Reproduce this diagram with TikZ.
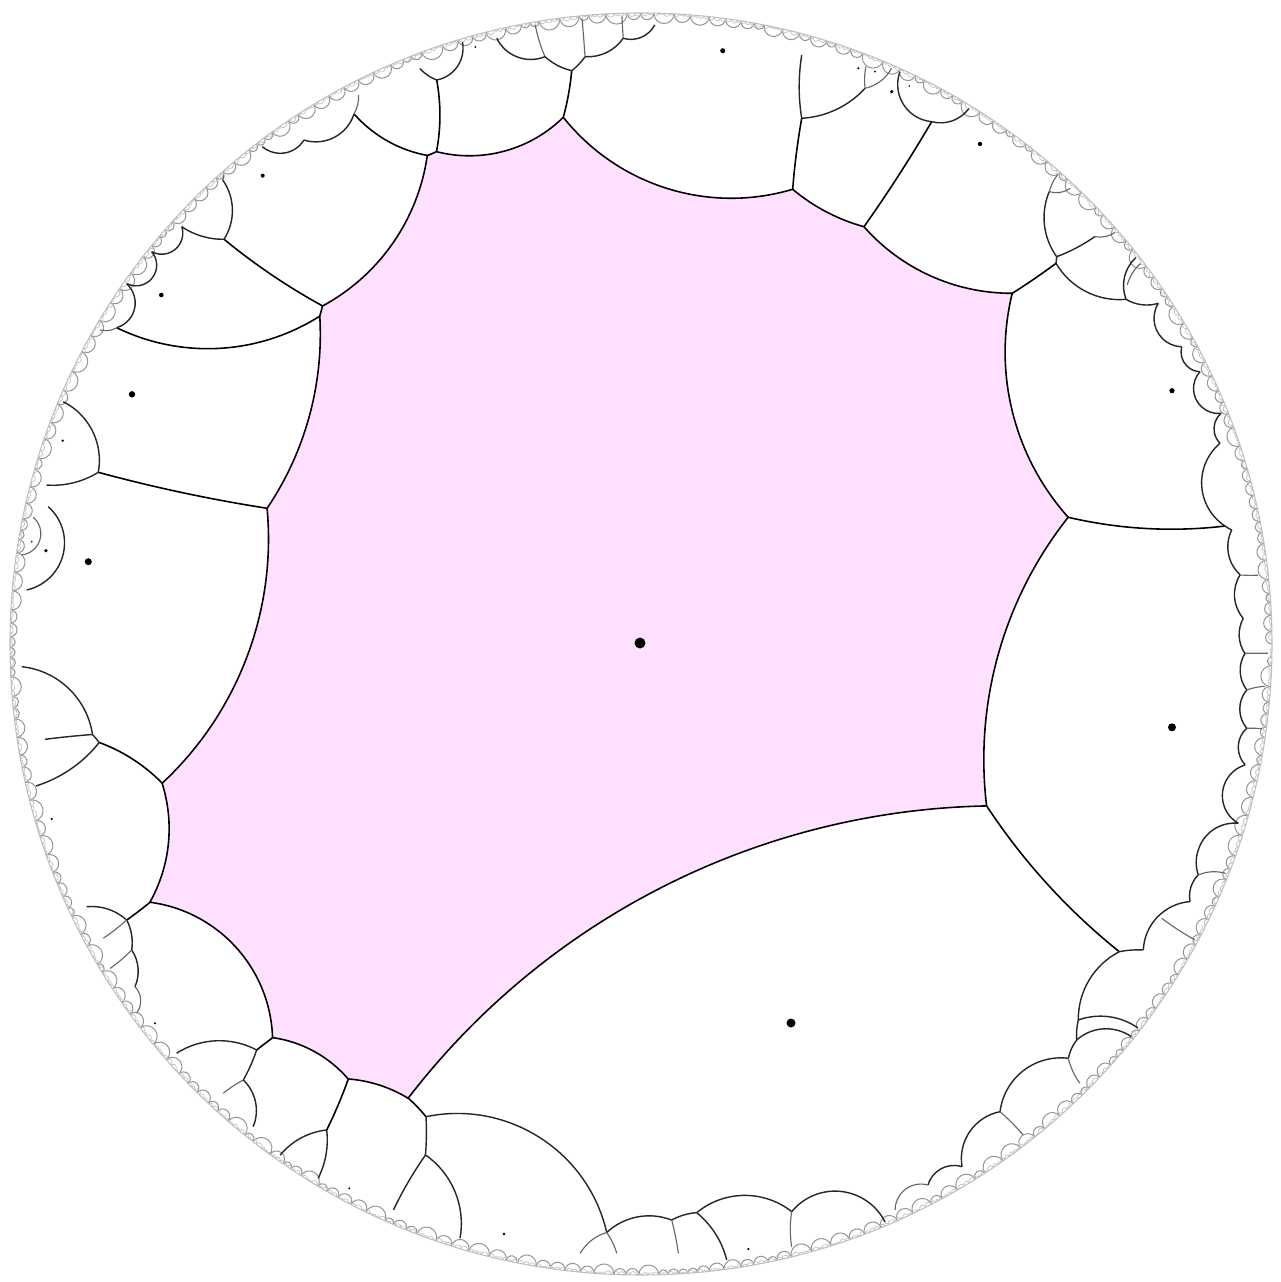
\documentclass[tikz,border=0pt]{standalone}
\usepackage{tikz}
\definecolor{pinkfill}{RGB}{255,224,255}
\tikzset{
  e1/.style={draw=black,line width=0.45pt},
  e2/.style={draw=black!85,line width=0.4pt},
  e3/.style={draw=black!60,line width=0.32pt},
  fringeA/.style={draw=black!42,line width=0.28pt},
  fringeB/.style={draw=black!24,line width=0.2pt},
  site/.style={fill=black}
}
% geodesic of the Poincare disk between two points given in pixel coordinates
\newcommand\hgcalc[4]{%
  \pgfmathsetmacro\hpx{((#1)-641)/631}%
  \pgfmathsetmacro\hpy{(644-(#2))/631}%
  \pgfmathsetmacro\hqx{((#3)-641)/631}%
  \pgfmathsetmacro\hqy{(644-(#4))/631}%
  \pgfmathsetmacro\hpl{max(1,veclen(\hpx,\hpy)/0.995)}%
  \pgfmathsetmacro\hpx{(\hpx)/(\hpl)}%
  \pgfmathsetmacro\hpy{(\hpy)/(\hpl)}%
  \pgfmathsetmacro\hql{max(1,veclen(\hqx,\hqy)/0.995)}%
  \pgfmathsetmacro\hqx{(\hqx)/(\hql)}%
  \pgfmathsetmacro\hqy{(\hqy)/(\hql)}%
  \pgfmathsetmacro\hA{((\hpx)*(\hpx)+(\hpy)*(\hpy)+1)/2}%
  \pgfmathsetmacro\hB{((\hqx)*(\hqx)+(\hqy)*(\hqy)+1)/2}%
  \pgfmathsetmacro\hD{(\hpx)*(\hqy)-(\hpy)*(\hqx)}%
  \pgfmathsetmacro\hNx{(\hA)*(\hqy)-(\hB)*(\hpy)}%
  \pgfmathsetmacro\hNy{(\hpx)*(\hB)-(\hqx)*(\hA)}%
  \pgfmathsetmacro\hstr{veclen(\hNx,\hNy)>40*abs(\hD)?1:0}%
  \ifdim\hstr pt>0.5pt
    \gdef\hst{1}%
  \else
    \gdef\hst{0}%
    \pgfmathsetmacro\hcx{(\hNx)/(\hD)}%
    \pgfmathsetmacro\hcy{(\hNy)/(\hD)}%
    \pgfmathsetmacro\hrc{6.31*veclen((\hcx)-(\hpx),(\hcy)-(\hpy))}%
    \pgfmathsetmacro\hs{atan2((\hpy)-(\hcy),(\hpx)-(\hcx))}%
    \pgfmathsetmacro\hee{atan2((\hqy)-(\hcy),(\hqx)-(\hcx))}%
    \pgfmathsetmacro\hdd{mod((\hee)-(\hs)+540,360)-180}%
    \global\let\hrc\hrc \global\let\hs\hs \global\let\hdd\hdd
  \fi
  \global\let\hpx\hpx \global\let\hpy\hpy \global\let\hqx\hqx \global\let\hqy\hqy
}
\newcommand\hgeo[5][e2]{%
  \hgcalc{#2}{#3}{#4}{#5}%
  \ifnum\hst=1
    \path[#1] (\hpx,\hpy) -- (\hqx,\hqy);%
  \else
    \path[#1] (\hpx,\hpy) arc[start angle=\hs, delta angle=\hdd, radius=\hrc cm];%
  \fi}
\newcommand\hseg[4]{\pgfextra{\hgcalc{#1}{#2}{#3}{#4}} arc[start angle=\hs, delta angle=\hdd, radius=\hrc cm]}
\newcommand\site[3]{\fill[site] ({((#1)-641)/631},{(644-(#2))/631}) circle[radius=#3*0.01cm];}
\begin{document}
\begin{tikzpicture}[x=6.31cm,y=6.31cm]
\useasboundingbox (-1.01585,-1.01109) rectangle (1.01268,1.02060);
\fill[white] (-1.01585,-1.01109) rectangle (1.01268,1.02060);

% central cell
\path[fill=pinkfill, e1] ({(427.5-641)/631},{(644-155.5)/631})
  \hseg{427.5}{155.5}{436.5}{151.7}
  \hseg{436.5}{151.7}{563.3}{117.3}
  \hseg{563.3}{117.3}{792.7}{189.3}
  \hseg{792.7}{189.3}{864}{226.7}
  \hseg{864}{226.7}{1012.3}{293.3}
  \hseg{1012.3}{293.3}{1068.3}{517.3}
  \hseg{1068.3}{517.3}{986.7}{806}
  \hseg{986.7}{806}{408.3}{1098.3}
  \hseg{408.3}{1098.3}{348.3}{1079}
  \hseg{348.3}{1079}{272.7}{1037.7}
  \hseg{272.7}{1037.7}{150}{902.3}
  \hseg{150}{902.3}{162.3}{783.3}
  \hseg{162.3}{783.3}{267.3}{508.3}
  \hseg{267.3}{508.3}{320}{316}
  \hseg{320}{316}{322.7}{306}
  \hseg{322.7}{306}{427.5}{155.5} -- cycle;

% fringe of small cells near the ideal boundary
\pgfmathsetseed{4242}
\xdef\fgA{0}
\foreach \k in {1,...,360}{%
  \pgfmathsetmacro\fh{0.4+0.6*rnd}%
  \pgfmathsetmacro\fgB{\fgA+2*\fh}%
  \ifdim\fgB pt<360pt
    \pgfmathsetmacro\fr{6.31*tan(\fh)}%
    \draw[fringeA] ({cos(\fgA)},{sin(\fgA)}) arc[start angle=\fgA+270, delta angle=2*\fh-180, radius=\fr cm];%
  \fi
  \xdef\fgA{\fgB}%
}
\xdef\fgA{0.3}
\foreach \k in {1,...,900}{%
  \pgfmathsetmacro\fh{0.12+0.2*rnd}%
  \pgfmathsetmacro\fgB{\fgA+2*\fh}%
  \ifdim\fgB pt<360pt
    \pgfmathsetmacro\fr{6.31*tan(\fh)}%
    \draw[fringeB] ({cos(\fgA)},{sin(\fgA)}) arc[start angle=\fgA+270, delta angle=2*\fh-180, radius=\fr cm];%
  \fi
  \xdef\fgA{\fgB}%
}
\draw[black!25,line width=0.3pt] (0,0) circle[radius=6.31cm];

% edges leaving the central cell
\hgeo[e1]{322.7}{306}{224}{239.3}
\hgeo[e1]{320}{316}{116.7}{327.7}
\hgeo[e1]{267.3}{508.3}{98.3}{472.3}
\hgeo[e1]{162.3}{783.3}{99.2}{742.5}
\hgeo[e1]{150}{902.3}{126.7}{920}
\hgeo[e1]{272.7}{1037.7}{256.7}{1050}
\hgeo[e1]{348.3}{1079}{326.7}{1130}
\hgeo[e1]{408.3}{1098.3}{426}{1116.7}
\hgeo[e1]{986.7}{806}{1119.3}{951.7}
\hgeo[e1]{1068.3}{517.3}{1225}{526}
\hgeo[e1]{1012.3}{293.3}{1056}{263.3}
\hgeo[e1]{864}{226.7}{931.7}{121.7}
\hgeo[e1]{792.7}{189.3}{801.7}{118.3}
\hgeo[e1]{563.3}{117.3}{571.7}{70.7}
\hgeo[e1]{436.5}{151.7}{436.7}{80}
\hgeo[e1]{427.5}{155.5}{354}{114}

% second ring: upper left
\hgeo{224}{239.3}{222.7}{180}
\hgeo{224}{239.3}{181.7}{226.7}
\hgeo[e3]{222.7}{180}{213}{163}
\hgeo[e3]{354}{114}{358.3}{95}
\hgeo{354}{114}{304}{140}
\hgeo{304}{140}{262}{147}
\hgeo{116.7}{327.7}{124}{281.7}
\hgeo[e3]{116.7}{327.7}{100}{330}
\hgeo{124}{281.7}{151.7}{251.7}
\hgeo{151.7}{251.7}{181.7}{226.7}
% left
\hgeo{98.3}{472.3}{63.3}{401.7}
\hgeo{98.3}{472.3}{46.7}{485}
\hgeo{48.3}{506.7}{26.7}{590}
\hgeo[e3]{33.3}{517.3}{21.7}{555}
\hgeo{92.5}{734.5}{21.7}{666.7}
\hgeo{92.5}{734.5}{99.2}{742.5}
\hgeo{92.5}{734.5}{45}{739.3}
\hgeo{99.2}{742.5}{36}{786}
% lower left
\hgeo{126.7}{920}{86.7}{906.7}
\hgeo{126.7}{920}{131.7}{950}
\hgeo{131.7}{950}{135}{986.7}
\hgeo[e3]{135}{986.7}{136.7}{1013}
\hgeo[e3]{126.7}{920}{103.3}{938.3}
\hgeo[e3]{131.7}{950}{110}{968.3}
\hgeo{256.7}{1050}{176.7}{1053.3}
\hgeo{256.7}{1050}{243.3}{1080}
\hgeo[e3]{243.3}{1080}{223.3}{1093.3}
\hgeo{243.3}{1080}{253.3}{1126.7}
\hgeo{326.7}{1130}{280}{1155}
\hgeo{326.7}{1130}{318.3}{1178.3}
\hgeo{426}{1116.7}{425.5}{1155}
\hgeo{425.5}{1155}{393.3}{1210}
\hgeo{425.5}{1155}{460}{1238.3}
% bottom
\hgeo{426}{1116.7}{606.7}{1232.5}
\hgeo{606.7}{1232.5}{671.7}{1220}
\hgeo[e3]{606.7}{1232.5}{580}{1253.3}
\hgeo[e3]{606.7}{1232.5}{616.7}{1253.3}
\hgeo{671.7}{1220}{696.7}{1212.7}
\hgeo[e3]{671.7}{1220}{678.3}{1253.3}
\hgeo{696.7}{1212.7}{791.7}{1211.7}
\hgeo{696.7}{1212.7}{726.7}{1260}
\hgeo{791.7}{1211.7}{885}{1222}
\hgeo[e3]{791.7}{1211.7}{791.7}{1246.7}
% lower right
\hgeo{1119.3}{951.7}{1143.3}{950}
\hgeo{1119.3}{951.7}{1078.3}{1020}
\hgeo{1143.3}{950}{1190}{901.7}
\hgeo{1190}{901.7}{1198.3}{875}
\hgeo{1198.3}{875}{1198.3}{850}
\hgeo[e3]{1198.3}{875}{1230}{875}
\hgeo{1198.3}{850}{1238.3}{823.3}
\hgeo[e3]{1161.7}{918.3}{1195}{940}
\hgeo{1078.3}{1020}{1138.3}{1028.3}
\hgeo{1078.3}{1020}{1076.7}{1040}
\hgeo{1076.7}{1040}{1133.3}{1038.3}
\hgeo{1076.7}{1040}{1068.3}{1058.3}
\hgeo{1068.3}{1058.3}{1000}{1111.7}
\hgeo[e3]{1068.3}{1058.3}{1080}{1083.3}
\hgeo{1000}{1111.7}{962}{1166.7}
\hgeo[e3]{1000}{1111.7}{1023}{1135}
\hgeo{962}{1166.7}{928}{1185}
\hgeo[e3]{928}{1185}{895}{1210}
% right
\hgeo{1225}{526}{1220}{443.3}
\hgeo{1225}{526}{1231.7}{530}
\hgeo{1231.7}{530}{1240}{575}
\hgeo[e3]{1240}{575}{1258}{575}
\hgeo{1240}{575}{1243.3}{618.3}
\hgeo{1243.3}{618.3}{1245}{653.3}
\hgeo[e3]{1245}{653.3}{1268}{653.3}
\hgeo{1245}{653.3}{1246.7}{690}
\hgeo[e3]{1246.7}{690}{1265}{686.7}
\hgeo{1246.7}{690}{1246.7}{728.3}
\hgeo[e3]{1246.7}{728.3}{1262}{728.3}
\hgeo{1246.7}{728.3}{1245}{765}
\hgeo{1245}{765}{1238.3}{823.3}
% upper right
\hgeo{1056}{263.3}{1056.7}{256.7}
\hgeo{1056.7}{256.7}{1049.3}{191.7}
\hgeo{1056.7}{256.7}{1095}{236.7}
\hgeo[e3]{1095}{236.7}{1120}{228}
\hgeo[e3]{1049.3}{191.7}{1058.3}{173.3}
\hgeo[e3]{1049.3}{191.7}{1070}{188.3}
\hgeo{1056}{263.3}{1126}{299.3}
\hgeo{1126}{299.3}{1136.7}{256.7}
\hgeo[e3]{1127.3}{285}{1146.7}{258.3}
\hgeo{1126}{299.3}{1158.3}{303.3}
\hgeo{1158.3}{303.3}{1181.7}{346.7}
\hgeo{1181.7}{346.7}{1200}{371.7}
\hgeo{1200}{371.7}{1221}{413.3}
\hgeo{1221}{413.3}{1220}{443.3}
% top right
\hgeo{931.7}{121.7}{900}{71.7}
\hgeo{931.7}{121.7}{970}{106.7}
\hgeo{801.7}{118.3}{801.7}{55}
\hgeo{801.7}{118.3}{865}{88.3}
\hgeo[e3]{865}{88.3}{866}{66.7}
\hgeo[e3]{865}{88.3}{891.7}{68.3}
% top
\hgeo{571.7}{70.7}{545}{56.7}
\hgeo[e3]{545}{56.7}{535}{25}
\hgeo{545}{56.7}{496.7}{38.3}
\hgeo{571.7}{70.7}{585}{56.7}
\hgeo[e3]{585}{56.7}{581.7}{16.7}
\hgeo{585}{56.7}{623.3}{38.3}
\hgeo[e3]{623.3}{38.3}{621.7}{13.3}
\hgeo{623.3}{38.3}{655}{25}
\hgeo{436.7}{80}{420}{68.3}
\hgeo{436.7}{80}{461.7}{40}

% sites
\site{640}{643}{5.5}
\site{791}{1023}{4.5}
\site{1172}{727.3}{4}
\site{88.3}{561.7}{3.5}
\site{132}{394.3}{3.2}
\site{1172}{390.7}{2.6}
\site{722.7}{50.7}{2.5}
\site{161.3}{295}{2.3}
\site{980}{144}{2.2}
\site{262.7}{175.7}{2}
\site{891.7}{91.7}{1.8}
\site{46}{550.7}{1.8}
\site{62.7}{440.7}{1.3}
\site{858.3}{68.3}{1.2}
\site{875}{71.7}{1}
\site{909.3}{86}{0.9}
\site{475.3}{47}{1}
\site{155}{1023.3}{1.1}
\site{349.3}{1188.3}{1.1}
\site{504}{1234}{1.4}
\site{748.3}{1249}{1.2}
\site{51.7}{819}{1.2}
\site{31.7}{541.7}{0.9}
\end{tikzpicture}
\end{document}
